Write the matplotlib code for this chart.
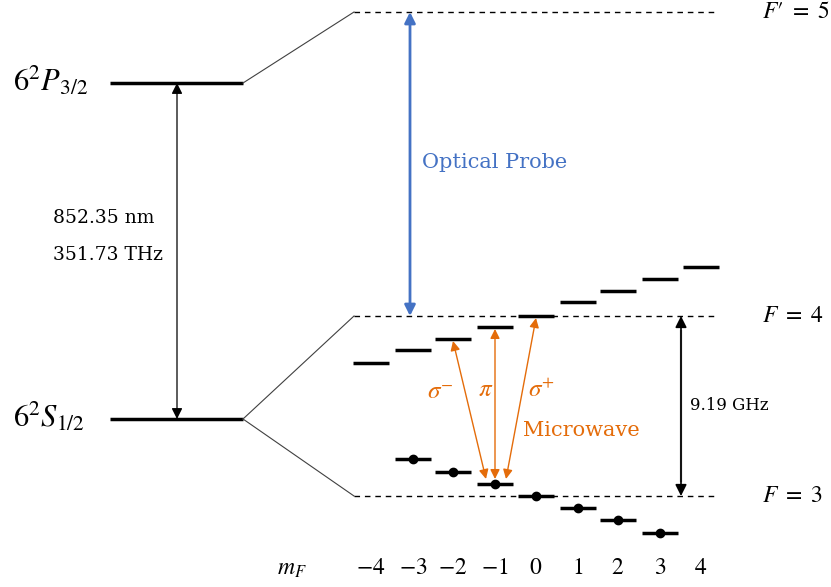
import matplotlib.pyplot as plt

plt.rcParams['mathtext.fontset'] = 'stix'
plt.rcParams['font.family'] = 'DejaVu Serif'

# Data (diagram units: pixels, y grows downward) ----------------------------------------

mf = [-4, -3, -2, -1, 0, 1, 2, 3, 4]
mf_x = [371, 413, 453, 495, 536, 578, 618, 660, 701]
f4_y = [363, 350, 339, 327, 316, 302, 291, 279, 267]
f3_mf = [-3, -2, -1, 0, 1, 2, 3]
f3_y = [459, 472, 484, 496, 508, 520, 533]

fine_y = {'P': 83, 'S': 419}
hyper_y = {"F'=5": 12, 'F=4': 316, 'F=3': 496}
orange = '#E46C0A'
blue = '#4472C4'

# Figure ----------------------------------------

fig = plt.figure(figsize=(8.31, 5.87), dpi=100)
ax = fig.add_axes([0, 0, 1, 1])
ax.set_xlim(0, 831)
ax.set_ylim(587, 0)
ax.axis('off')

# fine structure levels
for key, y in fine_y.items():
    ax.plot([110, 243], [y, y], color='black', lw=2.5, solid_capstyle='butt')
ax.text(13, fine_y['P'] - 2, r'$6^2P_{3/2}$', fontsize=22, va='center', ha='left')
ax.text(13, fine_y['S'] - 2, r'$6^2S_{1/2}$', fontsize=22, va='center', ha='left')

# connectors to hyperfine levels
ax.plot([243, 354], [fine_y['P'], hyper_y["F'=5"]], color='#404040', lw=0.8)
ax.plot([243, 354], [fine_y['S'], hyper_y['F=4']], color='#404040', lw=0.8)
ax.plot([243, 354], [fine_y['S'], hyper_y['F=3']], color='#404040', lw=0.8)

# dashed hyperfine levels
for lab, y in hyper_y.items():
    ax.plot([354, 718], [y, y], color='black', lw=1, ls=(0, (4, 3.5)))
ax.text(762, hyper_y["F'=5"], "$F\u2032\\ =\\ 5$", fontsize=17, va='center', ha='left')
ax.text(762, hyper_y['F=4'], r'$F\ =\ 4$', fontsize=17, va='center', ha='left')
ax.text(762, hyper_y['F=3'], r'$F\ =\ 3$', fontsize=17, va='center', ha='left')

# Zeeman sublevels
for x, y in zip(mf_x, f4_y):
    ax.plot([x - 18, x + 18], [y, y], color='black', lw=2.5, solid_capstyle='butt')
for m, y in zip(f3_mf, f3_y):
    x = mf_x[mf.index(m)]
    ax.plot([x - 18, x + 18], [y, y], color='black', lw=2.5, solid_capstyle='butt')
    ax.plot(x, y, 'o', color='black', ms=6)

# mF labels
ax.text(292, 569, r'$m_F$', fontsize=17, va='center', ha='center')
for m, x in zip(mf, mf_x):
    lab = r'$-%d$' % abs(m) if m < 0 else r'$%d$' % m
    ax.text(x, 567, lab, fontsize=17, va='center', ha='center')

# optical transition arrow
ax.annotate('', xy=(177, fine_y['P']), xytext=(177, fine_y['S']),
            arrowprops=dict(arrowstyle='<|-|>', color='black', lw=0.9,
                            mutation_scale=16, shrinkA=0, shrinkB=0))
ax.text(53, 218, '852.35 nm', fontsize=13.5, va='center', ha='left')
ax.text(53, 255, '351.73 THz', fontsize=13.5, va='center', ha='left')

# optical probe
ax.annotate('', xy=(410, hyper_y["F'=5"]), xytext=(410, hyper_y['F=4']),
            arrowprops=dict(arrowstyle='<|-|>', color=blue, lw=2,
                            mutation_scale=16, shrinkA=0, shrinkB=0))
ax.text(422, 162, 'Optical Probe', fontsize=15, color=blue, va='center', ha='left')

# hyperfine splitting
ax.annotate('', xy=(681, hyper_y['F=4']), xytext=(681, hyper_y['F=3']),
            arrowprops=dict(arrowstyle='<|-|>', color='black', lw=1.2,
                            mutation_scale=17, shrinkA=0, shrinkB=0))
ax.plot([681, 681], [hyper_y['F=4'] + 15, hyper_y['F=3'] - 15], color='#7F7F7F', lw=1.6)
ax.text(690, 406, '9.19 GHz', fontsize=12, va='center', ha='left')

# microwave transitions from mF=-1 of F=3
src_x = mf_x[mf.index(-1)]
src_y = f3_y[f3_mf.index(-1)] - 5
for dm, dx in zip([-1, 0, 1], [-9, 0, 11]):
    i = mf.index(-1 + dm)
    ax.annotate('', xy=(mf_x[i], f4_y[i] + 2), xytext=(src_x + dx, src_y),
                arrowprops=dict(arrowstyle='<|-|>', color=orange, lw=1,
                                mutation_scale=14, shrinkA=0, shrinkB=0))
ax.text(440, 392, r'$\sigma^{-}$', fontsize=18, color=orange, va='center', ha='center')
ax.text(486, 390, r'$\pi$', fontsize=18, color=orange, va='center', ha='center')
ax.text(542, 390, r'$\sigma^{+}$', fontsize=18, color=orange, va='center', ha='center')
ax.text(523, 430, 'Microwave', fontsize=15, color=orange, va='center', ha='left')

fig.savefig('out.png', dpi=100)
